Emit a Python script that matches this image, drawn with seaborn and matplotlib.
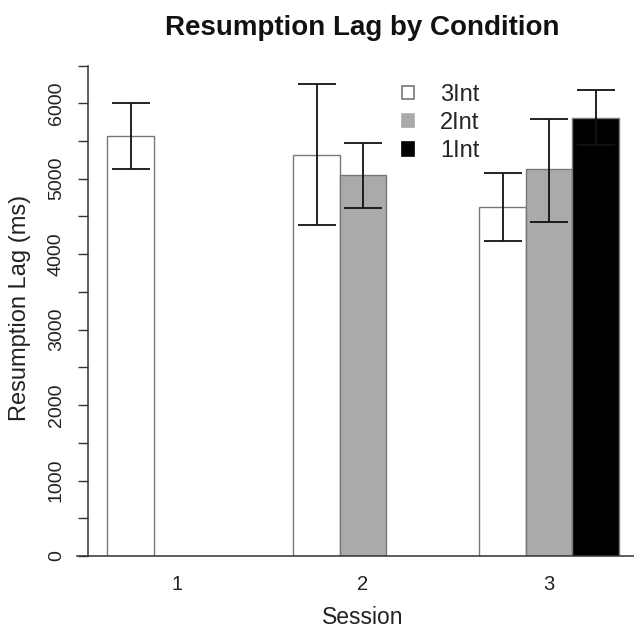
import numpy as np
import pandas as pd
import matplotlib
matplotlib.use("Agg")
import matplotlib.pyplot as plt
from matplotlib.patches import Patch
import seaborn as sns

# ---- data ----
sessions = ["1", "2", "3"]
conditions = ["3Int", "2Int", "1Int"]
bar_session = ["1", "2", "2", "3", "3", "3"]
bar_condition = ["3Int", "3Int", "2Int", "3Int", "2Int", "1Int"]
lag_mean = [5567, 5315, 5045, 4630, 5125, 5809]
err_low = [5125, 4383, 4615, 4175, 4430, 5442]
err_high = [6000, 6260, 5478, 5080, 5787, 6176]
fill_colors = ["#ffffff", "#aaaaaa", "#000000"]
ytick_vals = list(range(0, 7000, 500))
ytick_labels = [str(v) if v % 1000 == 0 else "" for v in ytick_vals]

df = pd.DataFrame({"session": bar_session, "condition": bar_condition,
                   "lag": lag_mean, "low": err_low, "high": err_high})

sns.set_style("white")
plt.rcParams["font.family"] = ["Liberation Sans", "DejaVu Sans"]

W, H = 634, 631
fig = plt.figure(figsize=(W / 100, H / 100), dpi=100)
px_per_unit = (555 - 102.3) / 6000.0
ytop = 6700
ax_bottom_px = 556
ax = fig.add_axes([77 / W, (H - ax_bottom_px) / H, (W - 77) / W, ytop * px_per_unit / H])
ax.set_facecolor("none")

sns.barplot(data=df, x="session", y="lag", hue="condition", order=sessions,
            hue_order=conditions, palette=fill_colors, width=0.75, saturation=1,
            errorbar=None, edgecolor="#777777", linewidth=1.0, legend=False, ax=ax)

# error bars at the drawn bar centres
for p in ax.patches:
    h = p.get_height()
    if not np.isfinite(h) or h <= 0:
        continue
    match = df[np.isclose(df["lag"], h)]
    if match.empty:
        continue
    row = match.iloc[0]
    xc = p.get_x() + p.get_width() / 2
    ax.errorbar(xc, row["lag"], yerr=[[row["lag"] - row["low"]], [row["high"] - row["lag"]]],
                fmt="none", ecolor="#111111", elinewidth=1.3, capsize=13.5, capthick=1.3, zorder=5)

ax.set_xlim(-(177 - 77) / 186, (W - 177) / 186)
ax.set_ylim(0, ytop)

for s in ["top", "right"]:
    ax.spines[s].set_visible(False)
ax.spines["left"].set_position(("data", -(177 - 88) / 186))
ax.spines["left"].set_bounds(0, 6500)
ax.spines["left"].set_color("#333333")
ax.spines["bottom"].set_color("#333333")
ax.spines["left"].set_linewidth(1.1)
ax.spines["bottom"].set_linewidth(1.1)

ax.set_yticks(ytick_vals)
ax.set_yticklabels(ytick_labels)
ax.tick_params(axis="y", left=True, length=7.2, width=1.0, color="#333333", labelsize=14, pad=9.5,
               labelrotation=90, labelcolor="#222222")
for lab in ax.get_yticklabels():
    lab.set_va("center")
ax.tick_params(axis="x", bottom=False, length=0, labelsize=14.5, pad=13.5, labelcolor="#222222")

ax.set_ylabel("Resumption Lag (ms)", fontsize=17, color="#222222")
ax.yaxis.set_label_coords(20 / W, (H - 308) / H, transform=fig.transFigure)
ax.yaxis.label.set_va("center")
ax.set_xlabel("Session", fontsize=16.5, color="#222222")
ax.xaxis.set_label_coords(363 / W, (H - 617) / H, transform=fig.transFigure)
ax.xaxis.label.set_va("center")

fig.text(362 / W, 1 - 28 / H, "Resumption Lag by Condition", ha="center", va="center",
         fontsize=20, fontweight="bold", color="#111111")

handles = [Patch(facecolor=c, edgecolor=("#777777" if c == "#ffffff" else c), linewidth=1.2)
           for c in fill_colors]
ax.legend(handles, conditions, loc="upper left", bbox_to_anchor=(402 / W, 1 - 84 / H),
          bbox_transform=fig.transFigure, frameon=False, fontsize=17, handlelength=0.5,
          handleheight=0.5, handletextpad=1.1, labelspacing=0.26, borderpad=0,
          borderaxespad=0)

fig.savefig("out.png", dpi=100)
